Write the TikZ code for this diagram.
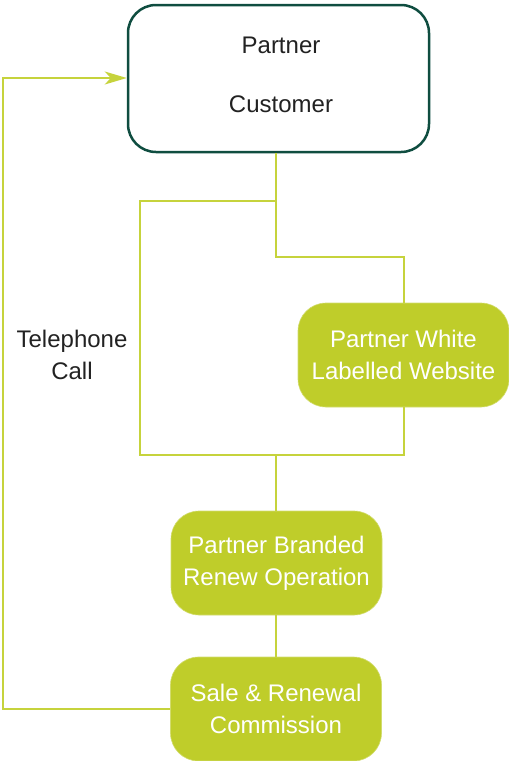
\documentclass[tikz,border=0pt]{standalone}
\usepackage{fontspec}
\setmainfont{Liberation Sans}
\usetikzlibrary{arrows.meta}
\definecolor{lime}{HTML}{BFCD2A}
\definecolor{limeline}{HTML}{C6D33C}
\definecolor{limeedge}{HTML}{D2DC6E}
\definecolor{teal}{HTML}{0F4D40}
\definecolor{txt}{HTML}{222222}
\tikzset{
  greenbox/.style={rectangle, rounded corners=28pt, fill=lime, draw=limeedge, line width=0.6pt,
    minimum width=211pt, minimum height=104pt, align=center, text=white,
    font=\fontsize{24}{32}\selectfont, inner sep=0pt},
  topbox/.style={rectangle, rounded corners=28pt, draw=teal, line width=2.5pt, fill=white,
    minimum width=301pt, minimum height=147pt, inner sep=0pt},
  link/.style={draw=limeline, line width=1.6pt},
  lbl/.style={text=txt, font=\fontsize{24}{32}\selectfont, align=center, inner sep=0pt}
}
\begin{document}
\begin{tikzpicture}[x=1pt,y=-1pt]
\useasboundingbox (0,0) rectangle (509,761);
% nodes
\node[topbox] (top) at (278.5,78.5) {};
\node[lbl, anchor=base] (tpartner) at (281,53) {Partner};
\node[lbl, anchor=base] (tcustomer) at (281,112) {Customer};
\node[greenbox] (white) at (403.5,355) {Partner White\\Labelled Website};
\node[greenbox] (branded) at (276.5,563) {Partner Branded\\Renew Operation};
\node[greenbox] (sale) at (276,709) {Sale \& Renewal\\Commission};
\node[lbl] (tel) at (72,355) {Telephone\\Call};
% coordinates
\coordinate (a1) at (276,201);
\coordinate (a2) at (276,257);
\coordinate (a3) at (404,257);
\coordinate (b1) at (140,201);
\coordinate (b2) at (140,455);
\coordinate (b3) at (404,455);
\coordinate (c1) at (276,455);
\coordinate (d1) at (3,709);
\coordinate (d2) at (3,78);
% connectors
\draw[link] (top.south -| a1) -- (a2) -- (a3) -- (white.north -| a3);
\draw[link] (a1) -- (b1) -- (b2) -- (b3) -- (white.south -| b3);
\draw[link] (c1) -- (branded.north -| c1);
\draw[link] (branded.south -| c1) -- (sale.north -| c1);
\draw[link, -{Stealth[length=22pt,width=13pt,inset=6pt]}] (sale.west) -- (d1) -- (d2) -- (top.west |- d2);
\end{tikzpicture}
\end{document}
